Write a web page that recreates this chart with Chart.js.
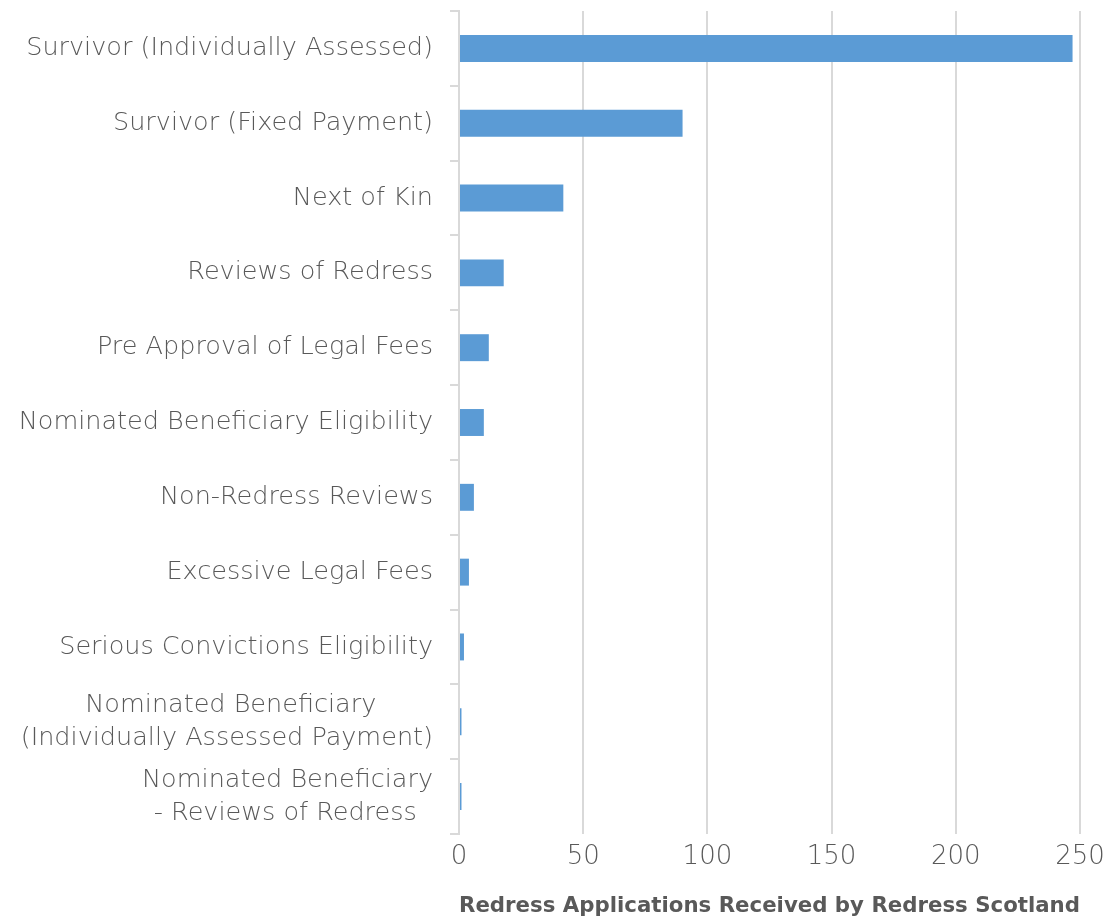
<!DOCTYPE html>
<html>
<head>
<meta charset="utf-8">
<script src="https://cdn.jsdelivr.net/npm/chart.js@4"></script>
<style>
    html, body { margin: 0; padding: 0; background: #fff; }
    #wrap { width: 1106px; height: 917px; }
</style>
</head>
<body>
<div id="wrap"><canvas id="redress-chart"></canvas></div>
<script>
var categories = [
    'Survivor (Individually Assessed)',
    'Survivor (Fixed Payment)',
    'Next of Kin',
    'Reviews of Redress',
    'Pre Approval of Legal Fees',
    'Nominated Beneficiary Eligibility',
    'Non-Redress Reviews',
    'Excessive Legal Fees',
    'Serious Convictions Eligibility',
    ['Nominated Beneficiary       ', '(Individually Assessed Payment)'],
    ['Nominated Beneficiary', '- Reviews of Redress  ']
];
var applications = [247, 90, 42, 18, 12, 10, 6, 4, 2, 1, 1];
var xTicks = [0, 50, 100, 150, 200, 250];

var textColor = '#595959';
var gridColor = '#d9d9d9';
var fontFamily = '"DejaVu Sans", sans-serif';

var ctx = document.getElementById('redress-chart').getContext('2d');
var redressChart = new Chart(ctx, {
    type: 'bar',
    data: {
        labels: categories,
        datasets: [{
            label: 'Redress Applications',
            data: applications,
            backgroundColor: '#5b9bd5',
            borderWidth: 0,
            barPercentage: 0.36,
            categoryPercentage: 1
        }]
    },
    options: {
        indexAxis: 'y',
        responsive: true,
        maintainAspectRatio: false,
        animation: false,
        layout: { padding: { top: 11, right: 26, left: 0, bottom: 0 } },
        plugins: {
            legend: { display: false },
            tooltip: { enabled: false }
        },
        scales: {
            x: {
                min: 0,
                max: 250,
                afterBuildTicks: function(scale) {
                    scale.ticks = xTicks.map(function(v) { return { value: v }; });
                },
                afterFit: function(scale) {
                    scale.height = 83;
                    scale.paddingLeft = 0;
                    scale.paddingRight = 0;
                },
                grid: { color: gridColor, lineWidth: 2, drawTicks: false },
                border: { display: false },
                ticks: {
                    color: textColor,
                    padding: 8,
                    font: { family: fontFamily, size: 26, weight: '200' }
                },
                title: {
                    display: true,
                    text: 'Redress Applications Received by Redress Scotland',
                    color: textColor,
                    padding: { top: 0, bottom: 0 },
                    font: { family: fontFamily, size: 22, weight: 'bold', lineHeight: 1 }
                }
            },
            y: {
                afterFit: function(scale) {
                    scale.width = 459;
                    scale.paddingTop = 0;
                    scale.paddingBottom = 0;
                },
                grid: {
                    drawOnChartArea: false,
                    drawTicks: true,
                    tickLength: 9,
                    color: gridColor,
                    lineWidth: 2
                },
                border: { display: true, color: gridColor, width: 2 },
                ticks: {
                    color: textColor,
                    padding: 17,
                    autoSkip: false,
                    font: { family: fontFamily, size: 25.5, weight: '200', lineHeight: 1.3 }
                }
            }
        }
    }
});
</script>
</body>
</html>
